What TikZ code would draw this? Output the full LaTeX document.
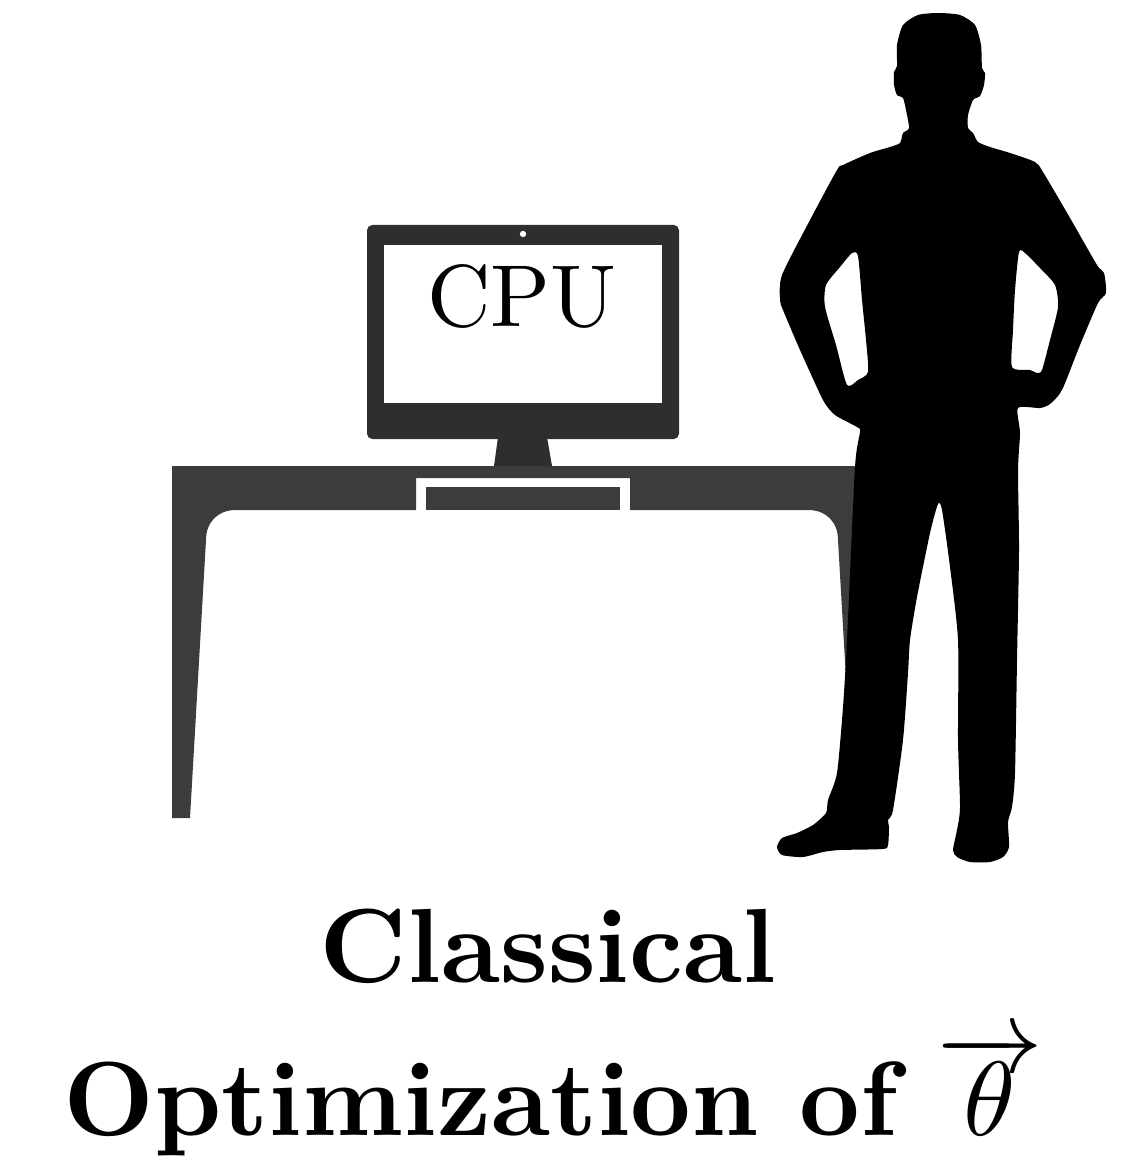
\documentclass[tikz,border=0pt]{standalone}
\usepackage{tikz}
\usetikzlibrary{positioning}

\definecolor{deskgray}{HTML}{3C3C3C}
\definecolor{monitorgray}{HTML}{2E2E2E}

% text set at 10pt and blown up, so the 10pt design is kept
\newcommand{\bigtext}[2]{\scalebox{#1}{#2}}

\begin{document}
\begin{tikzpicture}[x=0.01cm, y=-0.01cm,
	caption/.style={font=\bfseries, inner sep=0pt},
	screenlabel/.style={inner sep=0pt}]
	\useasboundingbox (0,0) rectangle (1123,1158);

	% desk
	\fill[deskgray] (172,466) -- (872,466) -- (872,818) -- (854,818) -- (838,540)
		.. controls (838,522) and (826,510) .. (808,510) -- (630,510) -- (630,478)
		-- (416,478) -- (416,510) -- (236,510)
		.. controls (218,510) and (206,522) .. (206,540) -- (190,818) -- (172,818) -- cycle;
	\fill[deskgray] (426,487) rectangle (620,510);

	% monitor
	\fill[monitorgray] (498,437) -- (547,437) -- (552,466) -- (494,466) -- cycle;
	\fill[monitorgray, rounded corners=1.5pt] (367,225) rectangle (679,439);
	\fill[white] (384,245) rectangle (662,403);
	\fill[white] (523,234) circle[radius=0.9pt];
	\node[screenlabel, anchor=base] (cpu) at (522,327) {\bigtext{2.5}{CPU}};

	% person
	\fill[black, even odd rule]
		plot[smooth cycle, tension=0.4] coordinates {
			(938,13) (960,15) (975,25) (981,45) (982,68) (985,73) (984,85) (980,96)
			(973,100) (968,115) (968,128) (973,133) (978,142) (990,147) (1010,153)
			(1035,162) (1043,172) (1070,218) (1097,265) (1104,273) (1106,293) (1098,303)
			(1080,345) (1062,390) (1050,404) (1040,408) (1018,408) (1020,433) (1018,470)
			(1019,550) (1017,660) (1015,773) (1012,807) (1008,822) (1009,847) (1003,857)
			(990,862) (970,862) (957,857) (953,850) (957,830) (960,807) (958,740)
			(958,640) (950,567) (942,510) (938,504) (930,533) (917,597) (910,640)
			(908,673) (903,740) (893,810) (888,820) (889,827) (888,845) (883,849)
			(840,850) (823,852) (803,857) (782,855) (777,847) (782,838) (797,833)
			(813,825) (826,813) (828,800) (837,773) (843,707) (847,640) (855,467)
			(860,432) (857,427) (835,415) (823,400) (800,350) (783,310) (780,300)
			(782,275) (810,220) (837,170) (843,165) (870,153) (890,147) (900,143)
			(903,133) (909,128) (906,110) (903,98) (897,95) (894,85) (894,72)
			(897,66) (897,45) (903,25) (918,15)}
		plot[smooth cycle, tension=0.4] coordinates {
			(852,253) (858,256) (862,300) (866,340) (868,372) (858,380) (847,385)
			(836,345) (825,307) (826,285) (840,267)}
		plot[smooth cycle, tension=0.4] coordinates {
			(1019,252) (1025,253) (1040,268) (1055,285) (1058,307) (1050,340)
			(1042,370) (1037,373) (1030,370) (1012,367) (1013,330) (1015,290)};

	% caption
	\node[caption, anchor=base] (title) at (548,982) {\bigtext{3}{Classical}};
	\node[caption, anchor=base] (subtitle) at (553,1135) {\bigtext{3}{Optimization of $\overrightarrow{\theta}$}};
\end{tikzpicture}
\end{document}
